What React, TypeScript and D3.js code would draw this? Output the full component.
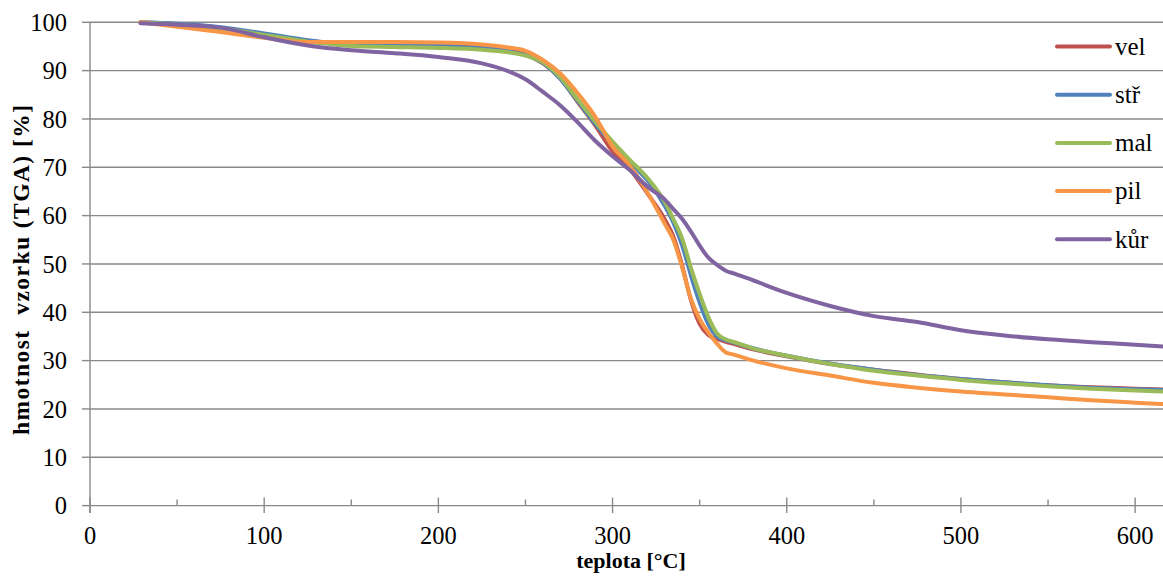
import React from "react";
import * as d3 from "d3";

const temperature = [29, 50, 75, 100, 125, 150, 175, 200, 225, 240, 250, 260, 270, 280, 290, 300, 310, 320, 330, 335, 340, 345, 350, 355, 360, 365, 370, 380, 400, 425, 450, 475, 500, 525, 550, 575, 600, 616];

const vel = [100, 99.6, 98.8, 97.5, 96.2, 95.5, 95.3, 95.1, 94.7, 94.1, 93.3, 91.5, 88.4, 83.5, 78.7, 73.3, 69.6, 64.6, 59.2, 55.6, 49.6, 42.5, 37.6, 35.3, 34.5, 33.9, 33.4, 32.4, 30.9, 29.3, 28.1, 27.1, 26.2, 25.5, 24.9, 24.5, 24.2, 24.0];
const str = [100, 99.7, 99.0, 97.7, 96.3, 95.5, 95.3, 95.1, 94.6, 94.0, 93.2, 91.6, 88.3, 83.7, 79.0, 74.8, 71.0, 67.3, 62.0, 58.5, 53.8, 47.6, 42.0, 37.5, 35.0, 34.2, 33.7, 32.6, 31.0, 29.4, 28.1, 27.0, 26.2, 25.5, 24.9, 24.4, 24.1, 23.9];
const mal = [100, 99.5, 98.7, 97.4, 96.0, 95.1, 94.9, 94.7, 94.3, 93.8, 93.1, 91.7, 88.6, 84.0, 79.5, 75.3, 71.5, 67.8, 62.8, 59.2, 55.2, 49.2, 43.8, 39.0, 35.6, 34.4, 33.8, 32.6, 31.0, 29.3, 27.9, 26.9, 26.0, 25.3, 24.7, 24.2, 23.8, 23.6];
const pil = [100, 99.1, 98.0, 96.8, 95.9, 95.9, 95.9, 95.8, 95.4, 94.8, 94.1, 92.2, 89.4, 85.3, 80.5, 74.3, 70.3, 64.8, 58.3, 54.9, 49.2, 42.8, 38.6, 35.8, 33.5, 31.7, 31.2, 30.1, 28.4, 26.9, 25.4, 24.4, 23.6, 23.0, 22.4, 21.8, 21.3, 21.0];
const kur = [99.8, 99.5, 98.9, 96.9, 95.2, 94.2, 93.6, 92.8, 91.5, 89.9, 88.2, 85.6, 82.8, 79.3, 75.5, 72.3, 69.4, 66.0, 63.3, 61.3, 59.3, 56.7, 53.8, 51.3, 49.8, 48.6, 48.0, 46.7, 44.0, 41.3, 39.2, 38.0, 36.3, 35.2, 34.4, 33.8, 33.3, 32.9];

const seriesNames = ["vel", "stř", "mal", "pil", "kůr"];
const seriesValues = [vel, str, mal, pil, kur];
const seriesColors = ["#C0504D", "#4F81BD", "#9BBB59", "#F79646", "#8064A2"];

const yTicks = [0, 10, 20, 30, 40, 50, 60, 70, 80, 90, 100];
const xMajorTicks = [0, 100, 200, 300, 400, 500, 600];
const xMinorTicks = [50, 150, 250, 350, 450, 550];

const W = 1163;
const H = 581;
const left = 90;
const right = 1163;
const top = 22.3;
const bottom = 505.6;
const FONT = "Liberation Serif, Times New Roman, serif";

export default function App() {
  const x = d3.scaleLinear().domain([0, 616]).range([left, right]);
  const y = d3.scaleLinear().domain([0, 100]).range([bottom, top]);
  const grid = "#898989";

  const line = d3
    .line<number>()
    .x((_, i) => x(temperature[i]))
    .y((d) => y(d))
    .curve(d3.curveMonotoneX);

  return (
    <svg
      width={W}
      height={H}
      style={{ position: "absolute", left: 0, top: 0, background: "#fff" }}
      fontFamily={FONT}
    >
      <rect x={0} y={0} width={W} height={H} fill="#fff" />
      {yTicks.map((t) => (
        <line key={"g" + t} x1={left} x2={right} y1={y(t)} y2={y(t)} stroke={grid} strokeWidth={1.4} />
      ))}
      <line x1={left} x2={left} y1={top} y2={bottom + 7.5} stroke={grid} strokeWidth={1.4} />
      {yTicks.map((t) => (
        <line key={"yt" + t} x1={left - 8} x2={left} y1={y(t)} y2={y(t)} stroke={grid} strokeWidth={1.4} />
      ))}
      {yTicks.map((t) => (
        <text key={"yl" + t} x={67} y={y(t)} dy="0.35em" textAnchor="end" fontSize={24.5} fontFamily={FONT} fill="#000">
          {t}
        </text>
      ))}
      {xMajorTicks.map((t) => (
        <line key={"xt" + t} x1={x(t)} x2={x(t)} y1={bottom - 8} y2={bottom + 7.5} stroke={grid} strokeWidth={1.4} />
      ))}
      {xMinorTicks.map((t) => (
        <line key={"xm" + t} x1={x(t)} x2={x(t)} y1={bottom - 6} y2={bottom} stroke={grid} strokeWidth={1.4} />
      ))}
      {xMajorTicks.map((t) => (
        <text key={"xl" + t} x={x(t)} y={544} textAnchor="middle" fontSize={24.5} fontFamily={FONT} fill="#000">
          {t}
        </text>
      ))}
      {seriesValues.map((vals, i) => (
        <path
          key={seriesNames[i]}
          d={line(vals) || ""}
          fill="none"
          stroke={seriesColors[i]}
          strokeWidth={4}
          strokeLinejoin="round"
          strokeLinecap="round"
        />
      ))}
      {seriesNames.map((n, i) => (
        <g key={"lg" + n}>
          <line
            x1={1057}
            x2={1110}
            y1={46.5 + i * 48.2}
            y2={46.5 + i * 48.2}
            stroke={seriesColors[i]}
            strokeWidth={4}
            strokeLinecap="round"
          />
          <text x={1115} y={46.5 + i * 48.2} dy="0.33em" fontSize={25} fontFamily={FONT} fill="#000">
            {n}
          </text>
        </g>
      ))}
      <text x={631} y={568} textAnchor="middle" fontSize={22} fontWeight="bold" fontFamily={FONT} fill="#000">
        teplota [°C]
      </text>
      <text
        transform={`translate(29, 270) rotate(-90)`}
        textAnchor="middle"
        fontSize={23.5}
        fontWeight="bold"
        fontFamily={FONT}
        fill="#000"
        textLength={330}
        lengthAdjust="spacing"
        style={{ whiteSpace: "pre" }}
      >
        {"hmotnost  vzorku (TGA) [%]"}
      </text>
    </svg>
  );
}
